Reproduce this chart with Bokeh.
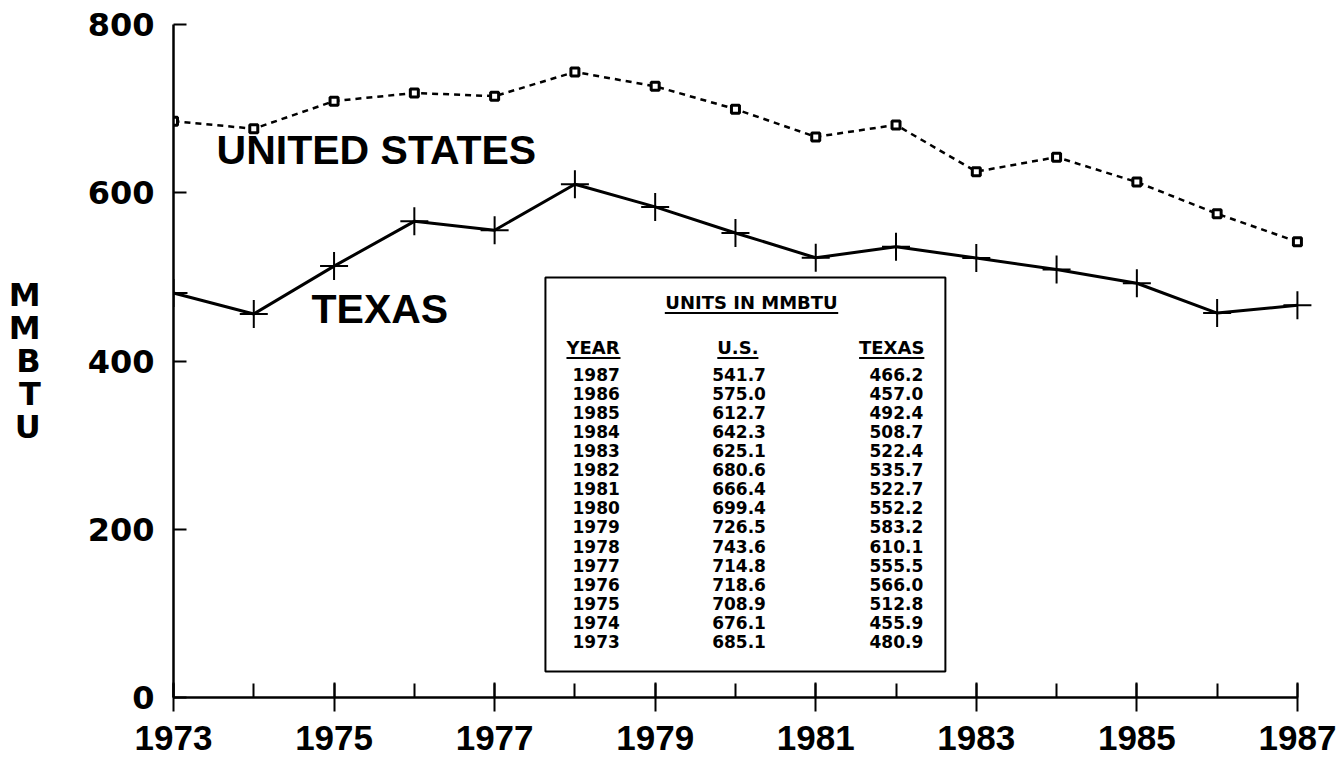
from bokeh.plotting import figure
from bokeh.models import Range1d, FixedTicker
from bokeh.embed import file_html
from bokeh.resources import INLINE
from bokeh.core.properties import value

# ---- data ----
years = [1973, 1974, 1975, 1976, 1977, 1978, 1979, 1980, 1981, 1982, 1983, 1984, 1985, 1986, 1987]
us_values = [685.1, 676.1, 708.9, 718.6, 714.8, 743.6, 726.5, 699.4, 666.4, 680.6, 625.1, 642.3, 612.7, 575.0, 541.7]
texas_values = [480.9, 455.9, 512.8, 566.0, 555.5, 610.1, 583.2, 552.2, 522.7, 535.7, 522.4, 508.7, 492.4, 457.0, 466.2]
x_tick_years = [1973, 1975, 1977, 1979, 1981, 1983, 1985, 1987]
y_ticks = [0, 200, 400, 600, 800]
series_names = ["UNITED STATES", "TEXAS"]
table_title = "UNITS IN MMBTU"
table_headers = ["YEAR", "U.S.", "TEXAS"]
y_axis_title = "MMBTU"

# ---- figure ----
p = figure(width=1341, height=758, output_backend="svg", toolbar_location=None,
           x_range=Range1d(1973, 1987.3), y_range=Range1d(0, 800),
           min_border_left=173, min_border_right=20, min_border_top=24, min_border_bottom=61)
p.outline_line_color = None
p.grid.visible = False
p.background_fill_color = "white"
p.border_fill_color = "white"

# x axis
xa = p.xaxis[0]
xa.ticker = FixedTicker(ticks=x_tick_years, minor_ticks=years)
xa.bounds = (1973, 1987)
xa.axis_line_width = 2.5
xa.axis_line_color = "black"
xa.major_tick_in = 15
xa.major_tick_out = 14
xa.minor_tick_in = 14
xa.minor_tick_out = 0
xa.major_tick_line_width = 2
xa.minor_tick_line_width = 2
xa.major_tick_line_color = "black"
xa.minor_tick_line_color = "black"
xa.major_label_text_font = "Liberation Sans"
xa.major_label_text_font_style = "bold"
xa.major_label_text_font_size = "35px"
xa.major_label_text_color = "black"
xa.major_label_text_line_height = 0.8
xa.major_label_standoff = 14

# y axis
ya = p.yaxis[0]
ya.ticker = FixedTicker(ticks=y_ticks, minor_ticks=[])
ya.bounds = (0, 800)
ya.axis_line_width = 2.5
ya.axis_line_color = "black"
ya.major_tick_in = 13
ya.major_tick_out = 0
ya.minor_tick_in = 0
ya.minor_tick_out = 0
ya.major_tick_line_width = 2
ya.major_tick_line_color = "black"
ya.major_label_text_font = "DejaVu Sans"
ya.major_label_text_font_style = "bold"
ya.major_label_text_font_size = "32px"
ya.major_label_text_color = "black"
ya.major_label_standoff = 19
ya.axis_label = "\n".join(list(y_axis_title))
ya.axis_label_orientation = "horizontal"
ya.axis_label_text_font = "DejaVu Sans"
ya.axis_label_text_font_style = "bold"
ya.axis_label_text_font_size = "32px"
ya.axis_label_text_line_height = 0.87
ya.axis_label_text_color = "black"
ya.axis_label_standoff = 44

# ---- series ----
p.line(years, us_values, line_color="black", line_width=2.5, line_dash="6 5")
p.scatter(years, us_values, marker="square", size=8, fill_color="white",
          line_color="black", line_width=3)
p.line(years, texas_values, line_color="black", line_width=3)
p.scatter(years, texas_values, marker="cross", size=28, line_color="black", line_width=2)

p.text(x=[1973.536, 1974.719], y=[650.5, 461.5], text=series_names,
       text_font=value("Liberation Sans"), text_font_style="bold", text_font_size="41px",
       text_color="black", text_align="left", text_baseline="alphabetic")

# ---- inset table ----
p.quad(left=[1977.633], right=[1982.615], bottom=[30.9], top=[499.3],
       fill_color="white", line_color="black", line_width=2)

tfont = value("DejaVu Sans")
p.text(x=[1980.20], y=[469.1], text=[table_title], text_font=tfont, text_font_style="bold",
       text_font_size="18px", text_color="black", text_align="center", text_baseline="alphabetic")
p.segment(x0=[1979.12], y0=[457.1], x1=[1981.28], y1=[457.1], line_color="black", line_width=2)

hx = [1977.895, 1980.03, 1982.353]
halign = ["left", "center", "right"]
for h, x, al in zip(table_headers, hx, halign):
    p.text(x=[x], y=[415.6], text=[h], text_font=tfont, text_font_style="bold",
           text_font_size="18px", text_color="black", text_align=al, text_baseline="alphabetic")
p.segment(x0=[1977.895, 1979.774, 1981.54], y0=[403.6] * 3,
          x1=[1978.568, 1980.286, 1982.353], y1=[403.6] * 3, line_color="black", line_width=2)

row_years = years[::-1]
row_us = us_values[::-1]
row_tx = texas_values[::-1]
row_y = [384.1 - i * 22.67 for i in range(len(row_years))]
p.text(x=[1977.97] * len(row_years), y=row_y, text=[str(v) for v in row_years], text_font=tfont,
       text_font_style="bold", text_font_size="17px", text_color="black",
       text_align="left", text_baseline="alphabetic")
p.text(x=[1979.71] * len(row_us), y=row_y, text=[f"{v:.1f}" for v in row_us], text_font=tfont,
       text_font_style="bold", text_font_size="17px", text_color="black",
       text_align="left", text_baseline="alphabetic")
p.text(x=[1982.34] * len(row_tx), y=row_y, text=[f"{v:.1f}" for v in row_tx], text_font=tfont,
       text_font_style="bold", text_font_size="17px", text_color="black",
       text_align="right", text_baseline="alphabetic")

open("out.html", "w").write(file_html(p, INLINE))
